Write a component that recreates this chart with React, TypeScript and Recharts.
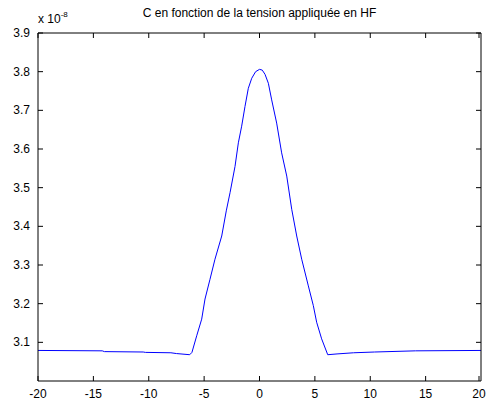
import React from "react";
import { LineChart, Line, XAxis, YAxis } from "recharts";

const voltage = [
  -20, -14.2, -14, -10.5, -10.3, -8, -7.5, -6.3,
  -6.1, -5.67, -5.22, -4.92, -4.47, -4.02, -3.41, -3.0, -2.66, -2.21, -1.91, -1.61, -1.31, -1.01, -0.7, -0.35, 0, 0.25,
  0.5, 0.8, 1.1, 1.55, 2.0, 2.46, 2.91, 3.36, 3.81, 4.41, 4.86, 5.16, 5.61, 6.16,
  7.0, 8.5, 10.4, 14.1, 20,
];
const capacitance = [
  3.079, 3.078, 3.076, 3.075, 3.074, 3.073, 3.071, 3.068,
  3.074, 3.117, 3.16, 3.212, 3.263, 3.315, 3.375, 3.44, 3.487, 3.555, 3.616, 3.659, 3.71, 3.757, 3.783, 3.8, 3.806, 3.804,
  3.793, 3.77, 3.727, 3.667, 3.59, 3.53, 3.444, 3.375, 3.315, 3.246, 3.195, 3.152, 3.109, 3.068,
  3.07, 3.073, 3.075, 3.078, 3.079,
];
const xTicks = [-20, -15, -10, -5, 0, 5, 10, 15, 20];
const yTicks = [3.1, 3.2, 3.3, 3.4, 3.5, 3.6, 3.7, 3.8, 3.9];
const title = "C en fonction de la tension appliquée en HF";

const data = voltage.map((v, i) => ({ v, c: capacitance[i] }));

const font = "Arial, 'Liberation Sans', Helvetica, sans-serif";
const TL = 5;

const BottomTick = (p: any) => (
  <g>
    <line x1={p.x} y1={p.y} x2={p.x} y2={p.y - TL} stroke="#000" />
    <text x={p.x} y={p.y + 17} textAnchor="middle" fontSize={12} fill="#000" fontFamily={font}>
      {p.payload.value}
    </text>
  </g>
);
const TopTick = (p: any) => (
  <line x1={p.x} y1={p.y} x2={p.x} y2={p.y + TL} stroke="#000" />
);
const LeftTick = (p: any) => (
  <g>
    <line x1={p.x} y1={p.y} x2={p.x + TL} y2={p.y} stroke="#000" />
    <text x={p.x - 8} y={p.y + 4} textAnchor="end" fontSize={12} fill="#000" fontFamily={font}>
      {Number(p.payload.value).toFixed(1)}
    </text>
  </g>
);
const RightTick = (p: any) => (
  <line x1={p.x} y1={p.y} x2={p.x - TL} y2={p.y} stroke="#000" />
);

export default function App() {
  return (
    <div
      style={{
        position: "absolute",
        left: 0,
        top: 0,
        width: 487,
        height: 401,
        background: "#fff",
        fontFamily: font,
      }}
    >
      <LineChart
        width={487}
        height={401}
        data={data}
        margin={{ top: 32, right: 5, bottom: 0, left: 0 }}
        style={{ outline: "none" }}
      >
        <XAxis
          dataKey="v"
          type="number"
          domain={[-20, 20]}
          ticks={xTicks}
          height={20}
          tickSize={0}
          tickMargin={0}
          tickLine={false}
          tick={BottomTick}
          axisLine={{ stroke: "#000" }}
          allowDataOverflow
        />
        <XAxis
          xAxisId="top"
          orientation="top"
          dataKey="v"
          type="number"
          domain={[-20, 20]}
          ticks={xTicks}
          height={1}
          tickSize={0}
          tickMargin={0}
          tickLine={false}
          tick={TopTick}
          axisLine={{ stroke: "#000" }}
          allowDataOverflow
        />
        <YAxis
          type="number"
          domain={[3.0, 3.9]}
          ticks={yTicks}
          width={38}
          tickSize={0}
          tickMargin={0}
          tickLine={false}
          tick={LeftTick}
          axisLine={{ stroke: "#000" }}
          allowDataOverflow
        />
        <YAxis
          yAxisId="right"
          orientation="right"
          type="number"
          domain={[3.0, 3.9]}
          ticks={yTicks}
          width={1}
          tickSize={0}
          tickMargin={0}
          tickLine={false}
          tick={RightTick}
          axisLine={{ stroke: "#000" }}
          allowDataOverflow
        />
        <Line
          type="linear"
          dataKey="c"
          stroke="#0000ff"
          strokeWidth={1}
          dot={false}
          activeDot={false}
          isAnimationActive={false}
        />
      </LineChart>
      <svg
        width={487}
        height={40}
        style={{ position: "absolute", left: 0, top: 0, pointerEvents: "none" }}
      >
        <text x={259.5} y={17} textAnchor="middle" fontSize={12} fill="#000" fontFamily={font}>
          {title}
        </text>
        <text x={38} y={23} fontSize={12} fill="#000" fontFamily={font}>
          x 10
          <tspan fontSize={8} dy={-6}>-8</tspan>
        </text>
      </svg>
    </div>
  );
}
